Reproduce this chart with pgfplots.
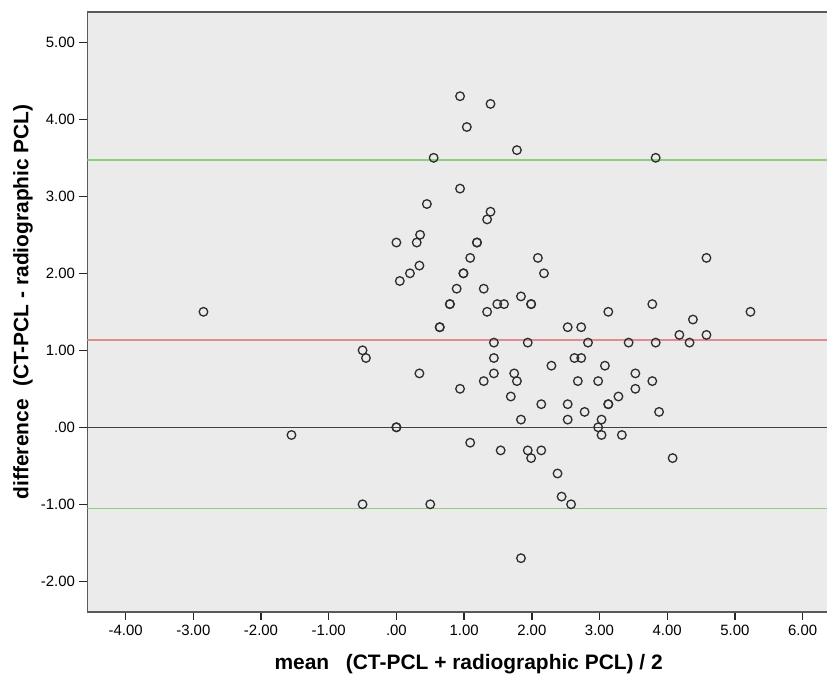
\documentclass[border=0pt]{standalone}
\usepackage{pgfplots}
\pgfplotsset{compat=1.18}
\usepackage{fontspec}
\setmainfont{Liberation Sans}
\definecolor{bgray}{RGB}{235,235,235}
\definecolor{lgreen}{RGB}{145,205,125}
\definecolor{lred}{RGB}{222,140,140}
\definecolor{mk}{RGB}{45,45,45}
\begin{document}
\begin{tikzpicture}
\begin{axis}[
  scale only axis,
  width=741.5bp, height=599.4bp,
  xmin=-4.563, xmax=6.39,
  ymin=-2.395, ymax=5.39,
  axis background/.style={fill=bgray},
  axis line style={line width=1.6bp, color=black!65},
  tick align=outside,
  xtick pos=bottom, ytick pos=left,
  major tick length=8bp,
  tick style={line width=1.4bp, color=black!85},
  xtick={-4,-3,-2,-1,0,1,2,3,4,5,6},
  xticklabels={-4.00,-3.00,-2.00,-1.00,.00,1.00,2.00,3.00,4.00,5.00,6.00},
  ytick={-2,-1,0,1,2,3,4,5},
  yticklabels={-2.00,-1.00,.00,1.00,2.00,3.00,4.00,5.00},
  ticklabel style={font=\fontsize{15}{16}\selectfont, text=black},
  xticklabel style={yshift=-2bp},
  yticklabel style={xshift=-1bp},
  every axis x label/.style={at={(axis description cs:0.514,-0.0873)}, anchor=center, font=\fontsize{21}{23}\selectfont\bfseries},
  every axis y label/.style={at={(axis description cs:-0.0870,0.517)}, anchor=center, rotate=90, font=\fontsize{21}{23}\selectfont\bfseries},
  xlabel={mean\hspace{0.8em}(CT-PCL + radiographic PCL) / 2},
  ylabel={difference\hspace{0.6em}(CT-PCL - radiographic PCL)},
  clip=true,
]
\addplot[lgreen, line width=1.5bp, forget plot] coordinates {(-5,3.47) (7,3.47)};
\addplot[lgreen, line width=1.5bp, forget plot] coordinates {(-5,-1.055) (7,-1.055)};
\addplot[lred, line width=1.5bp, forget plot] coordinates {(-5,1.134) (7,1.134)};
\addplot[black!75, line width=1.5bp, forget plot] coordinates {(-5,0) (7,0)};
\addplot[only marks, mark=o, mark size=4.3bp, mark options={draw=mk, line width=1.3bp}] coordinates {
(-2.85,1.5) (-1.55,-0.1) (-0.5,1.0) (-0.45,0.9) (-0.5,-1.0)
(0,0) (0,0) (0,2.4) (0.05,1.9) (0.2,2.0) (0.3,2.4) (0.35,2.5) (0.34,2.1) (0.34,0.7)
(0.45,2.9) (0.5,-1.0) (0.55,3.5) (0.64,1.3) (0.64,1.3) (0.79,1.6) (0.79,1.6)
(0.89,1.8) (0.94,4.3) (0.94,3.1) (0.94,0.5) (0.99,2.0) (0.99,2.0) (1.04,3.9)
(1.09,2.2) (1.09,-0.2) (1.19,2.4) (1.19,2.4) (1.29,1.8) (1.29,0.6) (1.34,2.7)
(1.39,2.8) (1.39,4.2) (1.34,1.5) (1.44,1.1) (1.44,0.9) (1.44,0.7) (1.49,1.6)
(1.59,1.6) (1.54,-0.3) (1.74,0.7) (1.69,0.4) (1.78,0.6) (1.78,3.6) (1.84,1.7)
(1.84,0.1) (1.84,-1.7) (1.94,1.1) (1.99,1.6) (1.99,1.6) (1.94,-0.3) (1.99,-0.4)
(2.09,2.2) (2.14,0.3) (2.14,-0.3) (2.18,2.0) (2.29,0.8) (2.38,-0.6) (2.44,-0.9)
(2.53,1.3) (2.53,0.3) (2.53,0.1) (2.58,-1.0) (2.63,0.9) (2.68,0.6) (2.73,1.3)
(2.73,0.9) (2.83,1.1) (2.78,0.2) (2.98,0.6) (2.98,0.0) (3.03,0.1) (3.03,-0.1)
(3.08,0.8) (3.13,1.5) (3.13,0.3) (3.13,0.3) (3.28,0.4) (3.33,-0.1) (3.43,1.1)
(3.53,0.7) (3.53,0.5) (3.78,0.6) (3.78,1.6) (3.83,3.5) (3.83,1.1) (3.88,0.2)
(4.08,-0.4) (4.18,1.2) (4.33,1.1) (4.38,1.4) (4.58,2.2) (4.58,1.2) (5.23,1.5)
};
\end{axis}
\pgfresetboundingbox
\path[use as bounding box] (-87.5bp,-63.3bp) rectangle (739.5bp,611.7bp);
\end{tikzpicture}
\end{document}
